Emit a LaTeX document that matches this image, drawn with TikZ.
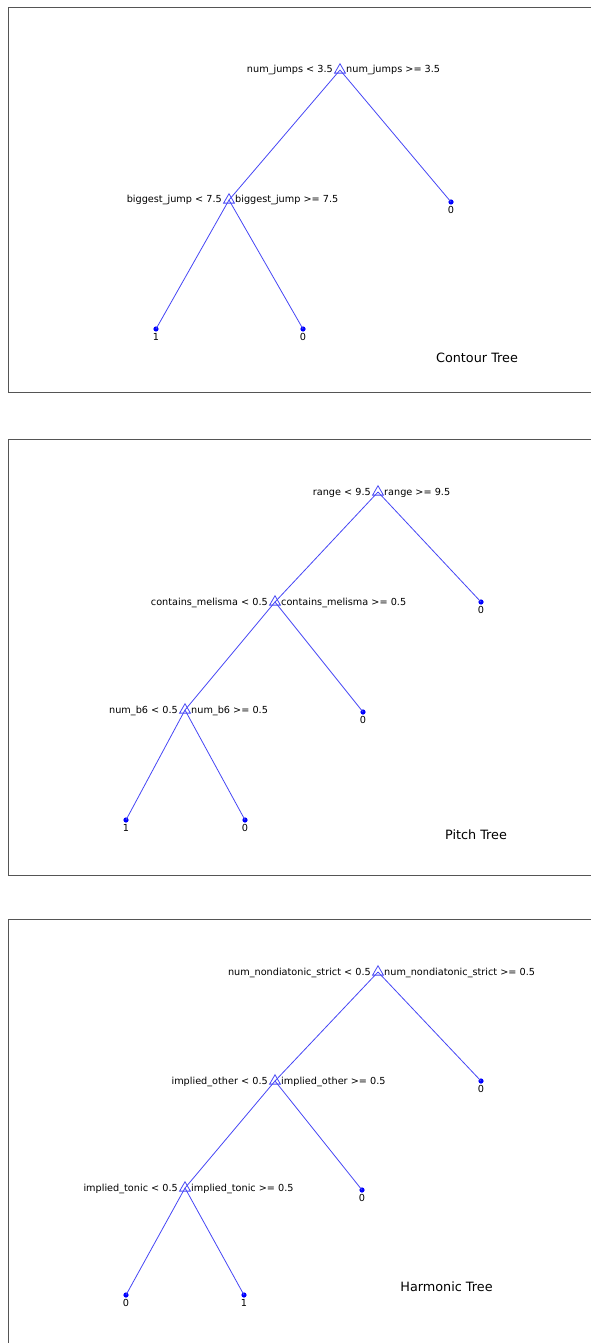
\documentclass[tikz,border=0pt]{standalone}
\usepackage{fontspec}
\setmainfont{DejaVu Sans}
\usetikzlibrary{shapes.geometric,calc}

\definecolor{treeline}{RGB}{70,70,245}
\definecolor{dotblue}{RGB}{0,0,255}
\definecolor{framegray}{RGB}{85,85,85}

\tikzset{
  frame/.style={draw=framegray,line width=1pt},
  edge/.style={draw=treeline,line width=0.8pt},
  split/.style={regular polygon,regular polygon sides=3,draw=treeline,
    line width=0.8pt,minimum size=12.5pt,inner sep=0pt},
  leafdot/.style={circle,fill=dotblue,inner sep=0pt,minimum size=5.2pt},
  lab/.style={inner sep=0pt,font=\fontsize{9.7}{11}\selectfont},
  title/.style={inner sep=0pt,font=\fontsize{12.8}{15}\selectfont},
}

\begin{document}
\begin{tikzpicture}[x=1pt,y=-1pt]
\useasboundingbox (0,0) rectangle (590,1343);

% ---------- panel frames (right side runs off the page) ----------
\draw[frame] (600,7.5) -- (8,7.5) -- (8,392) -- (600,392);
\draw[frame] (600,439) -- (8,439) -- (8,875) -- (600,875);
\draw[frame] (600,919) -- (8,919) -- (8,1350);

% ================= Contour tree =================
\node[split] (a0) at (340,70) {};
\node[split] (a1) at (229,200) {};
\node[leafdot] (a2) at (451,202) {};
\node[leafdot] (a3) at (156,329) {};
\node[leafdot] (a4) at (303,329) {};

\draw[edge] (a0.center) -- (a1.center);
\draw[edge] (a0.center) -- (a2.center);
\draw[edge] (a1.center) -- (a3.center);
\draw[edge] (a1.center) -- (a4.center);

\node[lab,anchor=base east] (a0l) at ($(a0.center)+(-7,3)$) {num\_jumps < 3.5};
\node[lab,anchor=base west] (a0r) at ($(a0.center)+(6,3)$) {num\_jumps >= 3.5};
\node[lab,anchor=base east] (a1l) at ($(a1.center)+(-7,3)$) {biggest\_jump < 7.5};
\node[lab,anchor=base west] (a1r) at ($(a1.center)+(6,3)$) {biggest\_jump >= 7.5};
\node[lab] (a2t) at ($(a2.center)+(0,7.5)$) {0};
\node[lab] (a3t) at ($(a3.center)+(0,7.5)$) {1};
\node[lab] (a4t) at ($(a4.center)+(0,7.5)$) {0};

\node[title] (ta) at (477,358) {Contour Tree};

% ================= Pitch tree =================
\node[split] (b0) at (378,492) {};
\node[split] (b1) at (275,602) {};
\node[leafdot] (b2) at (481,602) {};
\node[split] (b3) at (185,710) {};
\node[leafdot] (b4) at (363,712) {};
\node[leafdot] (b5) at (126,820) {};
\node[leafdot] (b6) at (245,820) {};

\draw[edge] (b0.center) -- (b1.center);
\draw[edge] (b0.center) -- (b2.center);
\draw[edge] (b1.center) -- (b3.center);
\draw[edge] (b1.center) -- (b4.center);
\draw[edge] (b3.center) -- (b5.center);
\draw[edge] (b3.center) -- (b6.center);

\node[lab,anchor=base east] (b0l) at ($(b0.center)+(-7,3)$) {range < 9.5};
\node[lab,anchor=base west] (b0r) at ($(b0.center)+(6,3)$) {range >= 9.5};
\node[lab,anchor=base east] (b1l) at ($(b1.center)+(-7,3)$) {contains\_melisma < 0.5};
\node[lab,anchor=base west] (b1r) at ($(b1.center)+(6,3)$) {contains\_melisma >= 0.5};
\node[lab,anchor=base east] (b3l) at ($(b3.center)+(-7,3)$) {num\_b6 < 0.5};
\node[lab,anchor=base west] (b3r) at ($(b3.center)+(6,3)$) {num\_b6 >= 0.5};
\node[lab] (b2t) at ($(b2.center)+(0,7.5)$) {0};
\node[lab] (b4t) at ($(b4.center)+(0,7.5)$) {0};
\node[lab] (b5t) at ($(b5.center)+(0,7.5)$) {1};
\node[lab] (b6t) at ($(b6.center)+(0,7.5)$) {0};

\node[title] (tb) at (476,835) {Pitch Tree};

% ================= Harmonic tree =================
\node[split] (c0) at (378,972) {};
\node[split] (c1) at (275,1081) {};
\node[leafdot] (c2) at (481,1081) {};
\node[split] (c3) at (185,1188) {};
\node[leafdot] (c4) at (362,1190) {};
\node[leafdot] (c5) at (126,1295) {};
\node[leafdot] (c6) at (244,1295) {};

\draw[edge] (c0.center) -- (c1.center);
\draw[edge] (c0.center) -- (c2.center);
\draw[edge] (c1.center) -- (c3.center);
\draw[edge] (c1.center) -- (c4.center);
\draw[edge] (c3.center) -- (c5.center);
\draw[edge] (c3.center) -- (c6.center);

\node[lab,anchor=base east] (c0l) at ($(c0.center)+(-7,3)$) {num\_nondiatonic\_strict < 0.5};
\node[lab,anchor=base west] (c0r) at ($(c0.center)+(6,3)$) {num\_nondiatonic\_strict >= 0.5};
\node[lab,anchor=base east] (c1l) at ($(c1.center)+(-7,3)$) {implied\_other < 0.5};
\node[lab,anchor=base west] (c1r) at ($(c1.center)+(6,3)$) {implied\_other >= 0.5};
\node[lab,anchor=base east] (c3l) at ($(c3.center)+(-7,3)$) {implied\_tonic < 0.5};
\node[lab,anchor=base west] (c3r) at ($(c3.center)+(6,3)$) {implied\_tonic >= 0.5};
\node[lab] (c2t) at ($(c2.center)+(0,7.5)$) {0};
\node[lab] (c4t) at ($(c4.center)+(0,7.5)$) {0};
\node[lab] (c5t) at ($(c5.center)+(0,7.5)$) {0};
\node[lab] (c6t) at ($(c6.center)+(0,7.5)$) {1};

\node[title] (tc) at (446.5,1287) {Harmonic Tree};
\end{tikzpicture}
\end{document}
